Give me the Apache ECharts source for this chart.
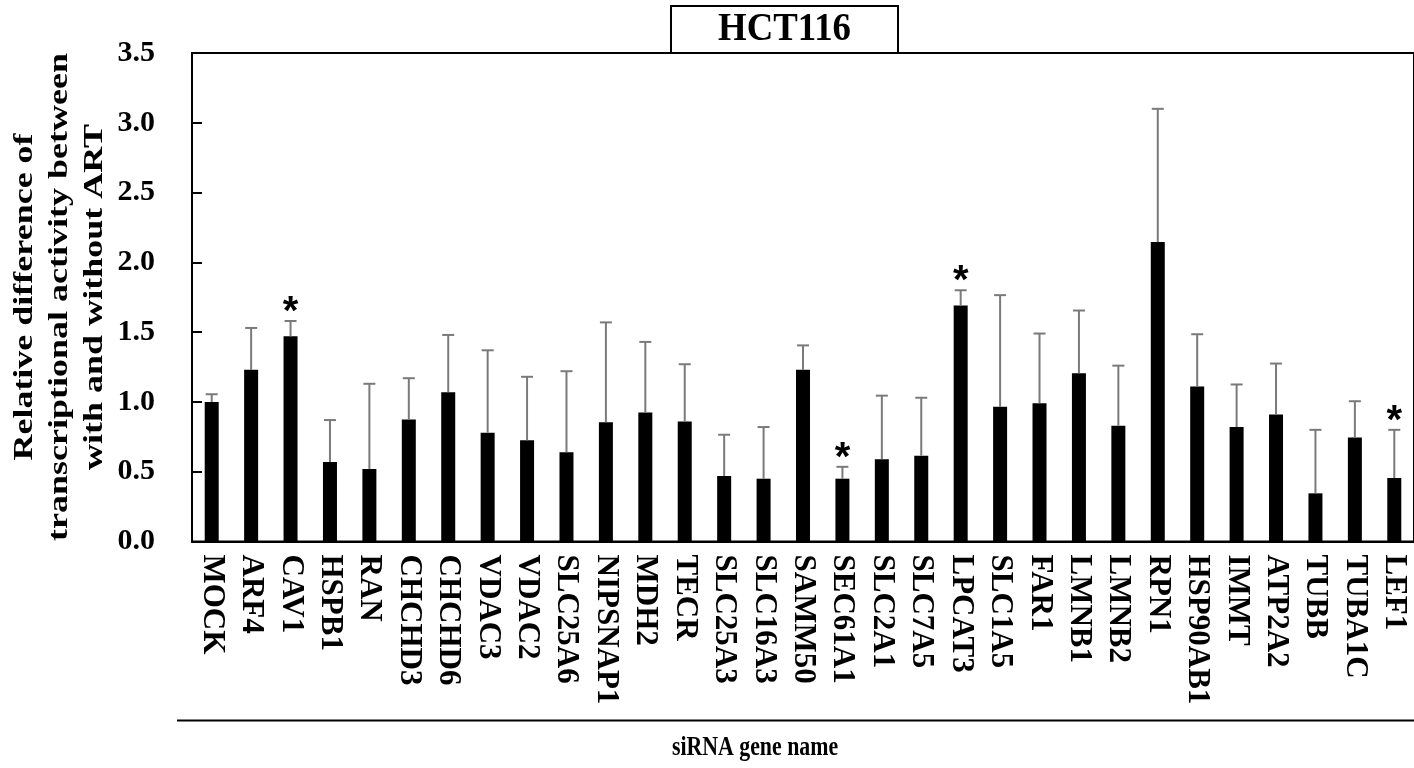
<!DOCTYPE html>
<html>
<head>
<meta charset="utf-8">
<title>HCT116</title>
<script src="https://cdn.jsdelivr.net/npm/echarts@6/dist/echarts.min.js"></script>
<style>
  html, body { margin: 0; padding: 0; background: #fff; overflow: hidden; }
  #chart { width: 1414px; height: 768px; }
</style>
</head>
<body>
<div id="chart"></div>
<script>
// siRNA targets, in plotted order
const genes = ['MOCK', 'ARF4', 'CAV1', 'HSPB1', 'RAN', 'CHCHD3', 'CHCHD6', 'VDAC3', 'VDAC2',
  'SLC25A6', 'NIPSNAP1', 'MDH2', 'TECR', 'SLC25A3', 'SLC16A3', 'SAMM50', 'SEC61A1', 'SLC2A1',
  'SLC7A5', 'LPCAT3', 'SLC1A5', 'FAR1', 'LMNB1', 'LMNB2', 'RPN1', 'HSP90AB1', 'IMMT', 'ATP2A2',
  'TUBB', 'TUBA1C', 'LEF1'];

// relative difference (mean)
const means = [1.00, 1.23, 1.47, 0.57, 0.52, 0.875, 1.07, 0.78, 0.725,
  0.64, 0.855, 0.925, 0.86, 0.47, 0.45, 1.23, 0.45, 0.59,
  0.615, 1.69, 0.965, 0.99, 1.205, 0.83, 2.145, 1.11, 0.82, 0.91,
  0.345, 0.745, 0.455];

// upper error (SD)
const sds = [0.055, 0.30, 0.11, 0.30, 0.61, 0.295, 0.41, 0.59, 0.455,
  0.58, 0.715, 0.505, 0.41, 0.295, 0.37, 0.175, 0.085, 0.455,
  0.415, 0.11, 0.80, 0.50, 0.45, 0.43, 0.955, 0.375, 0.305, 0.365,
  0.455, 0.26, 0.345];

// genes marked as significant
const significant = ['CAV1', 'SEC61A1', 'LPCAT3', 'LEF1'];

// y axis ticks
const yTicks = [0, 0.5, 1.0, 1.5, 2.0, 2.5, 3.0, 3.5];

const FONT = "'Liberation Serif', 'Times New Roman', serif";
const STAR_FONT = "'Liberation Sans', Arial, sans-serif";

const errorData = genes.map((g, i) => [i, means[i], sds[i], significant.includes(g) ? 1 : 0]);

const chart = echarts.init(document.getElementById('chart'), null, { renderer: 'canvas' });

chart.setOption({
  animation: false,
  backgroundColor: '#fff',
  grid: {
    left: 192,
    top: 53,
    width: 1240,
    bottom: 226.5,
    show: true,
    borderColor: '#000',
    borderWidth: 2,
    backgroundColor: 'transparent'
  },
  xAxis: {
    type: 'category',
    data: genes,
    boundaryGap: true,
    axisLine: { show: true, lineStyle: { color: '#000', width: 2 } },
    axisTick: { show: false },
    axisLabel: {
      interval: 0,
      rotate: -90,
      margin: 13,
      color: '#000',
      fontFamily: FONT,
      fontWeight: 'bold',
      fontSize: 31
    }
  },
  yAxis: {
    type: 'value',
    min: yTicks[0],
    max: yTicks[yTicks.length - 1],
    interval: 0.5,
    splitLine: { show: false },
    axisLine: { show: true, lineStyle: { color: '#000', width: 2 } },
    axisTick: { show: true, inside: true, length: 10, lineStyle: { color: '#000', width: 2 } },
    axisLabel: {
      margin: 37,
      color: '#000',
      fontFamily: FONT,
      fontWeight: 'bold',
      fontSize: 30,
      formatter: v => v.toFixed(1)
    }
  },
  series: [
    {
      type: 'bar',
      data: means,
      barWidth: 14,
      itemStyle: { color: '#000' },
      z: 2
    },
    {
      type: 'custom',
      data: errorData,
      z: 3,
      renderItem: function (params, api) {
        const i = api.value(0);
        const m = api.value(1);
        const sd = api.value(2);
        const star = api.value(3);
        const base = api.coord([i, m]);
        const top = api.coord([i, m + sd]);
        const cap = 6;
        const children = [
          {
            type: 'line',
            shape: { x1: base[0], y1: base[1], x2: top[0], y2: top[1] },
            style: { stroke: '#7a7a7a', lineWidth: 2 }
          },
          {
            type: 'line',
            shape: { x1: top[0] - cap, y1: top[1], x2: top[0] + cap, y2: top[1] },
            style: { stroke: '#7a7a7a', lineWidth: 2 }
          }
        ];
        if (star) {
          children.push({
            type: 'text',
            style: {
              x: top[0],
              y: top[1] - 8,
              text: '*',
              fill: '#000',
              font: 'bold 40px ' + STAR_FONT,
              align: 'center',
              verticalAlign: 'middle'
            }
          });
        }
        return { type: 'group', children: children };
      }
    }
  ],
  graphic: [
    // title box
    {
      type: 'rect',
      shape: { x: 671, y: 6, width: 227, height: 47 },
      style: { fill: '#fff', stroke: '#000', lineWidth: 2 },
      z: 10
    },
    {
      type: 'text',
      x: 784.5,
      y: 30,
      scaleX: 0.92,
      style: {
        text: 'HCT116',
        fill: '#000',
        font: 'bold 40px ' + FONT,
        align: 'center',
        verticalAlign: 'middle'
      },
      z: 11
    },
    // y axis title (three lines, reading upward)
    {
      type: 'text',
      x: 60,
      y: 297,
      rotation: Math.PI / 2,
      scaleY: 0.78,
      style: {
        text: 'Relative difference of\ntranscriptional activity between\nwith and without ART',
        fill: '#000',
        font: 'bold 36px ' + FONT,
        lineHeight: 45,
        align: 'center',
        verticalAlign: 'middle'
      }
    },
    // rule under the category labels
    {
      type: 'line',
      shape: { x1: 177, y1: 720.5, x2: 1414, y2: 720.5 },
      style: { stroke: '#000', lineWidth: 2 }
    },
    // x axis title
    {
      type: 'text',
      x: 755,
      y: 748,
      scaleX: 0.78,
      style: {
        text: 'siRNA gene name',
        fill: '#000',
        font: 'bold 28px ' + FONT,
        align: 'center',
        verticalAlign: 'middle'
      }
    }
  ]
});
</script>
</body>
</html>
